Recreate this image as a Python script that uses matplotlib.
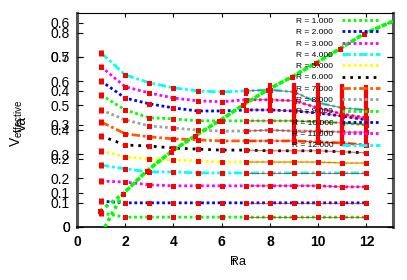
import numpy as np
import matplotlib
matplotlib.use("Agg")
import matplotlib.pyplot as plt

plt.rcParams['font.family'] = ['Liberation Sans', 'DejaVu Sans']

# x positions (r)
r = [1, 2, 3, 4, 5, 6, 7, 8, 9, 10, 11, 12]

# V_effective for each R
v_r1 = [0.041, 0.029, 0.029, 0.029, 0.029, 0.029, 0.029, 0.029, 0.029, 0.029, 0.029, 0.029]
v_r2 = [0.076, 0.071, 0.071, 0.071, 0.071, 0.071, 0.071, 0.071, 0.071, 0.071, 0.071, 0.071]
v_r3 = [0.135, 0.132, 0.124, 0.121, 0.121, 0.121, 0.121, 0.121, 0.121, 0.121, 0.118, 0.118]
v_r4 = [0.182, 0.171, 0.162, 0.162, 0.159, 0.159, 0.159, 0.159, 0.159, 0.159, 0.159, 0.159]
v_r5 = [0.224, 0.206, 0.200, 0.197, 0.194, 0.191, 0.191, 0.191, 0.191, 0.191, 0.188, 0.188]
v_r6 = [0.268, 0.241, 0.238, 0.232, 0.229, 0.226, 0.226, 0.224, 0.224, 0.224, 0.221, 0.218]
v_r7 = [0.309, 0.274, 0.265, 0.259, 0.256, 0.253, 0.253, 0.253, 0.253, 0.250, 0.247, 0.241]
v_r8 = [0.344, 0.315, 0.297, 0.291, 0.285, 0.282, 0.282, 0.285, 0.282, 0.282, 0.279, 0.279]
v_r9 = [0.388, 0.344, 0.321, 0.318, 0.312, 0.312, 0.312, 0.312, 0.312, 0.309, 0.306, 0.300]
v_r10 = [0.429, 0.379, 0.362, 0.350, 0.341, 0.341, 0.344, 0.344, 0.341, 0.335, 0.326, 0.315]
v_r11 = [0.471, 0.412, 0.394, 0.379, 0.371, 0.368, 0.374, 0.374, 0.371, 0.350, 0.332, 0.321]
v_r12 = [0.512, 0.447, 0.424, 0.409, 0.400, 0.397, 0.400, 0.403, 0.397, 0.365, 0.350, 0.344]

series = [v_r1, v_r2, v_r3, v_r4, v_r5, v_r6, v_r7, v_r8, v_r9, v_r10, v_r11, v_r12]
labels = ["R = 1.000", "R = 2.000", "R = 3.000", "R = 4.000", "R = 5.000", "R = 6.000",
          "R = 7.000", "R = 8.000", "R = 9.000", "R = 10.000", "R = 11.000", "R = 12.000"]

# Va against Ra (rising curve)
ra = [0.95, 1.9, 2.9, 3.9, 4.9, 5.9, 6.9, 7.9, 8.9, 9.9, 10.9, 11.9, 13.1]
va = [0.047, 0.097, 0.165, 0.221, 0.268, 0.312, 0.359, 0.403, 0.441, 0.482, 0.524, 0.568, 0.605]
# steep start of the second rising line
ra_start = [1.15, 1.9]
va_start = [0.0, 0.097]

# error bars on the upper right
err_x = [7, 8, 9, 10, 11, 12]
err_top = [0.410, 0.424, 0.424, 0.424, 0.421, 0.418]
err_bot = [0.385, 0.344, 0.241, 0.241, 0.241, 0.244]

colors = ["#00ff00", "#0000ff", "#ff00ff", "#00ffff", "#ffff00", "#000000",
          "#ff5a00", "#a0a0a0", "#00ff00", "#0000ff", "#ff00ff", "#00ffff"]
dashes = [(1, 1), (1, 1), (1, 1), (3, 1, 1, 1), (1, 1), (1, 1.8),
          (3, 1, 1, 1), (1, 1), (1, 1), (1, 1), (1, 1), (3, 1, 1, 1)]

fig = plt.figure(figsize=(4.07, 2.80), dpi=100)
pos = [77 / 407, 53 / 280, 316 / 407, 214 / 280]
ax = fig.add_axes(pos)
ax2 = fig.add_axes(pos, frameon=False)

xmax = 13.1
ymax = 0.629

handles = []
for vals, col, dsh, lab in zip(series, colors, dashes, labels):
    ln, = ax.plot(r, vals, color=col, lw=2, dashes=dsh, label=lab, zorder=2)
    handles.append(ln)
    # thin red overlay lines of the second plot
    ax.plot(r[6:], vals[6:], color="#dd0000", lw=0.8, alpha=0.6, zorder=3)
    ax.plot(r, vals, ls="none", marker="s", ms=3.6, mew=0, color="red", zorder=4)
    ax.errorbar(r[0], vals[0], yerr=0.008, fmt="none", ecolor="red", elinewidth=3.6, capsize=0, zorder=4)

ax.plot(ra, va, color="#00ff00", lw=2.5, dashes=(1, 1), zorder=3)
ax.plot(ra_start + ra[2:], va_start + va[2:], color="#00ff00", lw=2.5, dashes=(1, 1), zorder=3)
ax.plot(ra[:-1], va[:-1], ls="none", marker="s", ms=3.6, mew=0, color="red", zorder=4)
ax.vlines(err_x, err_bot, err_top, color="red", lw=3, zorder=4)

ax.set_xlim(0, xmax)
ax.set_ylim(0, ymax)
ax.set_xticks([0, 2, 4, 6, 8, 10, 12])
ax.set_xticklabels(["0", "2", "4", "6", "8", "10", "12"], fontweight="bold")
ax.set_yticks([0, 0.1, 0.2, 0.3, 0.4, 0.5, 0.6])
ax.set_yticklabels(["0", "0.1", "0.2", "0.3", "0.4", "0.5", "0.6"])
ax.tick_params(direction="in", length=4, width=0.8, labelsize=10, pad=5,
               top=True, right=True)
ax.tick_params(axis="x", length=3, pad=6)

# second overlaid scale
ax2.set_xlim(0, xmax)
ax2.set_ylim(0, ymax * 1.4)
ax2.set_xticks([])
ax2.set_yticks([0, 0.1, 0.2, 0.3, 0.4, 0.5, 0.6, 0.7, 0.8])
ax2.set_yticklabels(["0", "0.1", "0.2", "0.3", "0.4", "0.5", "0.6", "0.7", "0.8"])
ax2.tick_params(direction="in", length=4, width=0.8, labelsize=10, pad=5, right=True)

for side in ["left", "right"]:
    ax.spines[side].set_linewidth(2.2)
    ax.spines[side].set_color("#555555")
ax.spines["top"].set_linewidth(0.8)
ax.spines["bottom"].set_linewidth(1.2)

# axis labels, two overlapping plots
fig.text(17 / 407, 1 - 123 / 280, r"$\mathregular{V_{effective}}$", rotation=90,
         ha="center", va="center", fontsize=10)
fig.text(22 / 407, 1 - 124 / 280, "Va", rotation=90, ha="center", va="center", fontsize=10)
fig.text(233 / 407, 1 - 262 / 280, "r", ha="center", va="center", fontsize=9)
fig.text(238 / 407, 1 - 262 / 280, "Ra", ha="center", va="center", fontsize=9)

leg = ax.legend(handles=handles, loc="upper right", bbox_to_anchor=(380 / 407, 1 - 17 / 280),
                bbox_transform=fig.transFigure, frameon=False, fontsize=6, markerfirst=False,
                handlelength=4.6, handletextpad=1.0, labelspacing=0.42, borderpad=0,
                borderaxespad=0)
for t in leg.get_texts():
    t.set_ha("right")

fig.savefig("out.png", dpi=100)
